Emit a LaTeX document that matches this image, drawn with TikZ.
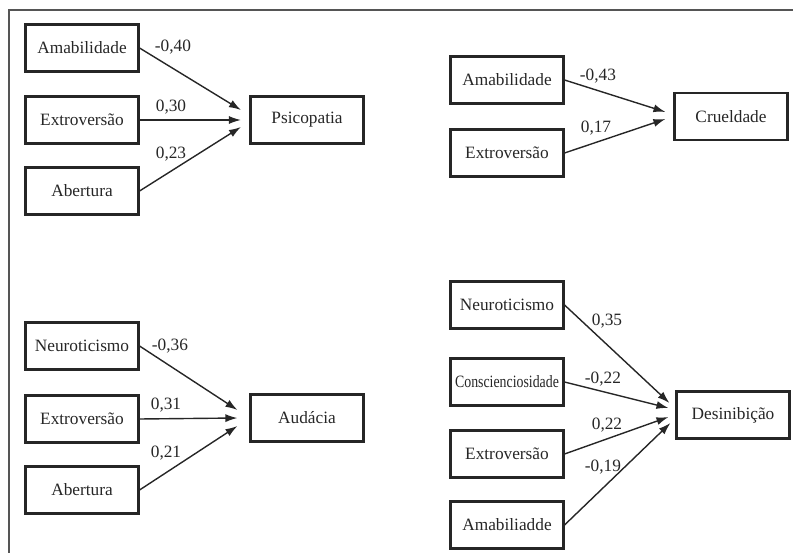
\documentclass[tikz,border=0pt]{standalone}
\usepackage{fontspec}
\setmainfont{Liberation Serif}
\usetikzlibrary{arrows.meta}
\definecolor{txt}{HTML}{262626}
\definecolor{frm}{HTML}{555555}
\tikzset{
  vbox/.style={draw=black!85, line width=2.1pt, minimum width=113pt, minimum height=47pt, inner sep=0pt, text=txt, font=\fontsize{17.3}{20}\selectfont},
  coef/.style={text=txt, font=\fontsize{17.3}{20}\selectfont, inner sep=0pt},
  path/.style={draw=black!85, line width=1.4pt, -{Latex[length=12pt,width=8pt]}},
  frame/.style={draw=frm, line width=2pt}
}
\begin{document}
\begin{tikzpicture}[x=1pt,y=-1pt]
\useasboundingbox (0,0) rectangle (793,553);
\coordinate (fa) at (9,553);
\coordinate (fb) at (9,10);
\coordinate (fc) at (793,10);
\draw[frame] (fa) -- (fb) -- (fc);

% Psicopatia
\node[vbox] (ama1) at (82,48) {Amabilidade};
\node[vbox] (ext1) at (82,120) {Extroversão};
\node[vbox] (abe1) at (82,191) {Abertura};
\node[vbox] (psi) at (307,120) {Psicopatia};
\draw[path] (ama1.east) -- ([xshift=-8.5pt,yshift=10pt]psi.west);
\draw[path] (ext1.east) -- ([xshift=-8.5pt]psi.west);
\draw[path] (abe1.east) -- ([xshift=-8.5pt,yshift=-7pt]psi.west);
\node[coef] (c11) at (173,47) {-0,40};
\node[coef] (c12) at (171,107) {0,30};
\node[coef] (c13) at (171,154) {0,23};

% Crueldade
\node[vbox] (ama2) at (507,80) {Amabilidade};
\node[vbox] (ext2) at (507,153) {Extroversão};
\node[vbox] (cru) at (731,116.5) {Crueldade};
\draw[path] (ama2.east) -- ([xshift=-8pt,yshift=4.5pt]cru.west);
\draw[path] (ext2.east) -- ([xshift=-8pt,yshift=-2.5pt]cru.west);
\node[coef] (c21) at (598,76) {-0,43};
\node[coef] (c22) at (596,128) {0,17};

% Audacia
\node[vbox] (neu3) at (82,346) {Neuroticismo};
\node[vbox] (ext3) at (82,419) {Extroversão};
\node[vbox] (abe3) at (82,490) {Abertura};
\node[vbox] (aud) at (307,418) {Audácia};
\draw[path] (neu3.east) -- ([xshift=-12pt,yshift=8pt]aud.west);
\draw[path] (ext3.east) -- ([xshift=-12pt]aud.west);
\draw[path] (abe3.east) -- ([xshift=-12pt,yshift=-8pt]aud.west);
\node[coef] (c31) at (170,346) {-0,36};
\node[coef] (c32) at (166,405) {0,31};
\node[coef] (c33) at (166,453) {0,21};

% Desinibicao
\node[vbox] (neu4) at (507,305) {Neuroticismo};
\node[vbox] (con4) at (507,382) {\scalebox{0.8}[1]{Conscienciosidade}};
\node[vbox] (ext4) at (507,454) {Extroversão};
\node[vbox] (ama4) at (507,525) {Amabiliadde};
\node[vbox] (des) at (733,415) {Desinibição};
\draw[path] (neu4.east) -- ([xshift=-6pt,yshift=12pt]des.west);
\draw[path] (con4.east) -- ([xshift=-7pt,yshift=7pt]des.west);
\draw[path] (ext4.east) -- ([xshift=-7pt,yshift=-2pt]des.west);
\draw[path] (ama4.east) -- ([xshift=-5pt,yshift=-8pt]des.west);
\node[coef] (c41) at (607,321) {0,35};
\node[coef] (c42) at (603,379) {-0,22};
\node[coef] (c43) at (607,425) {0,22};
\node[coef] (c44) at (603,467) {-0,19};
\end{tikzpicture}
\end{document}
